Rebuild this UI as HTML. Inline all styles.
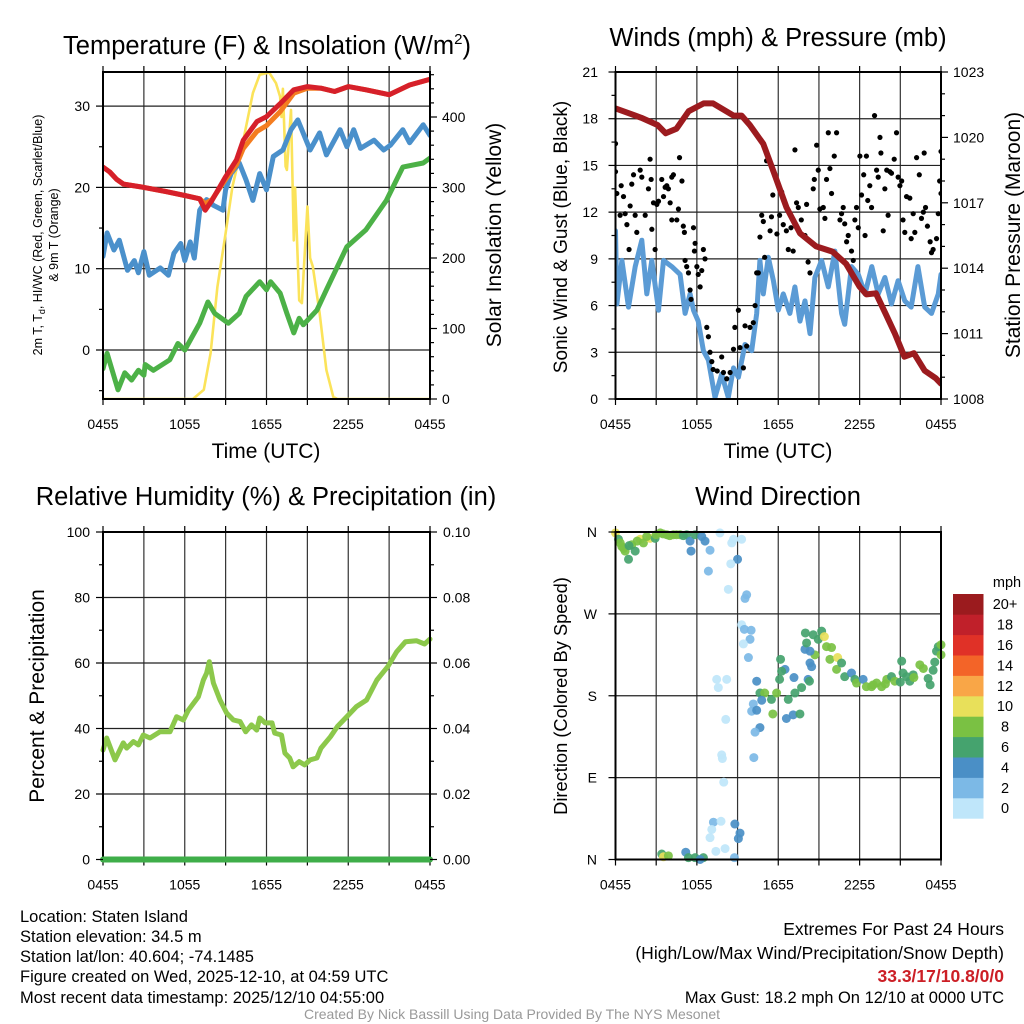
<!DOCTYPE html>
<html><head><meta charset="utf-8"><style>
body{margin:0;background:#fff}
svg{display:block;font-family:"Liberation Sans",sans-serif}
</style></head><body>
<svg id="c" width="1024" height="1024" viewBox="0 0 1024 1024">
<rect width="1024" height="1024" fill="#fff"/>
<text x="267" y="54" font-size="25.5" text-anchor="middle">Temperature (F) &amp; Insolation (W/m<tspan font-size="15" dy="-10">2</tspan><tspan dy="10">)</tspan></text>
<text x="778" y="46" font-size="25.5" text-anchor="middle">Winds (mph) &amp; Pressure (mb)</text>
<text x="266" y="505" font-size="25.5" text-anchor="middle">Relative Humidity (%) &amp; Precipitation (in)</text>
<text x="778" y="505" font-size="25.5" text-anchor="middle">Wind Direction</text>

<text transform="translate(42,235) rotate(-90)" font-size="12.5" text-anchor="middle">2m T, T<tspan font-size="9" dy="3">d</tspan><tspan dy="-3">, HI/WC (Red, Green, Scarlet/Blue)</tspan></text>
<text transform="translate(58,235) rotate(-90)" font-size="12.5" text-anchor="middle">&amp; 9m T (Orange)</text>
<text transform="translate(501,235) rotate(-90)" font-size="21" text-anchor="middle">Solar Insolation (Yellow)</text>
<text x="266" y="458" font-size="21" text-anchor="middle">Time (UTC)</text>
<text transform="translate(567,237) rotate(-90)" font-size="19" text-anchor="middle">Sonic Wind &amp; Gust (Blue, Black)</text>
<text transform="translate(1020,235) rotate(-90)" font-size="21" text-anchor="middle">Station Pressure (Maroon)</text>
<text x="778" y="458" font-size="21" text-anchor="middle">Time (UTC)</text>
<text transform="translate(44,696) rotate(-90)" font-size="21" text-anchor="middle">Percent &amp; Precipitation</text>
<text transform="translate(567,696) rotate(-90)" font-size="18.3" text-anchor="middle">Direction (Colored By Speed)</text>

<g font-size="16.5">
<text x="20" y="922">Location: Staten Island</text>
<text x="20" y="942">Station elevation: 34.5 m</text>
<text x="20" y="962">Station lat/lon: 40.604; -74.1485</text>
<text x="20" y="982">Figure created on Wed, 2025-12-10, at 04:59 UTC</text>
<text x="20" y="1003">Most recent data timestamp: 2025/12/10 04:55:00</text>
</g>
<g font-size="16.5" text-anchor="end">
<text x="1004" y="935" font-size="17.5">Extremes For Past 24 Hours</text>
<text x="1004" y="959" font-size="17.5">(High/Low/Max Wind/Precipitation/Snow Depth)</text>
<text x="1004" y="982" fill="#cc1f26" font-weight="bold" font-size="17.5">33.3/17/10.8/0/0</text>
<text x="1004" y="1003">Max Gust: 18.2 mph On 12/10 at 0000 UTC</text>
</g>
<text x="512" y="1019" font-size="14" fill="#999" text-anchor="middle">Created By Nick Bassill Using Data Provided By The NYS Mesonet</text>
</svg>
<script>
// ---- Temperature panel data (hours since 0455 UTC) ----
const redT=[0,0.5,1,1.5,3,4.6,6,7.1,7.5,8.0,9,9.8,10.3,11.3,12,13,14,15,16,17,18,19.3,21,22.5,24];
const redV=[22.5,21.9,21.0,20.4,20.0,19.5,19.0,18.6,17.2,18.4,21.3,23.4,25.8,28.1,28.7,30.3,32.0,32.4,32.2,31.8,32.4,32.0,31.4,32.6,33.3];
const orangeV=[22.5,21.9,21.0,20.4,20.0,19.5,19.0,18.6,18.0,18.5,21.0,22.8,24.8,26.9,27.6,29.3,31.6,32.2,32.2,31.8,32.4,32.0,31.4,32.6,33.3];
const blueT=[0,0.3,0.8,1.2,1.8,2.3,2.6,3,3.4,4.2,4.8,5.2,5.7,6,6.4,6.7,7.1,7.6,8.1,8.8,9,9.4,10,10.5,11,11.5,12,12.5,13.2,13.8,14.3,15.2,15.9,16.4,17.4,17.9,18.4,18.9,19.9,20.6,21.1,22,22.5,23.5,24];
const blueV=[11.5,14.4,12.3,13.5,9.8,11,9.5,12.1,9.2,10.1,9.2,11.9,13.1,11,13.3,11.3,17.2,18.5,17.8,17.2,19.7,21.7,23,20.9,18.4,21.7,19.7,23.8,24.6,27.1,28.3,24.6,26.7,24,27.1,25,27.1,24.8,25.8,24.6,25.2,27.1,25.5,27.7,26.4];
const greenT=[0,0.3,1.1,1.6,2.1,2.6,3,3.1,3.7,4.9,5.5,6,7.1,7.7,8.2,9.2,10,10.5,11.5,12,12.3,13,13.5,14,14.4,14.7,15.7,16.4,17.9,19.3,20.8,22,23.5,24];
const greenV=[-2.3,-0.4,-4.9,-2.8,-3.7,-2.5,-3.1,-1.8,-2.5,-1.2,0.8,0,3.3,5.9,4.5,3.3,4.5,6.6,8.4,7.4,8.4,7.0,4.5,2.1,3.9,3.1,4.9,7.4,12.7,14.8,18.4,22.5,23,23.6];
const solT=[0,6.6,7.4,7.9,8.4,9,9.5,10.3,11,11.5,12.2,12.7,13.0,13.1,13.2,13.4,13.5,13.8,14.0,14.1,14.4,14.6,15.0,15.2,15.4,15.9,16.4,16.9,17.2,24];
const solV=[0,0,13,65,159,235,301,367,434,460,463,448,429,400,440,330,325,410,225,300,140,136,273,200,188,122,41,3,0,0];
// ---- Winds panel ----
const windT=[0,0.1,0.47,0.96,1.45,1.94,2.31,2.68,3.17,3.54,4.15,4.76,5.13,5.5,5.75,6.1,6.48,6.85,7.34,7.83,8.32,8.7,9.06,9.55,10.04,10.41,10.65,10.9,11.27,11.64,12,12.37,12.86,13.23,13.6,13.97,14.34,14.7,15.2,15.69,16.18,16.67,16.9,17.4,17.9,18.4,18.9,19.37,19.86,20.35,20.84,21.33,21.8,22.3,22.8,23.3,23.8,24];
const windV=[10.8,6.1,8.9,5.9,8.5,10.2,6.75,8.9,5.7,8.9,8.5,8.0,5.5,6.75,5.7,5.0,3.1,2.5,0.1,1.6,0.1,2.0,1.4,3.5,3.1,5.5,8.9,6.75,9.1,7.6,5.7,6.75,5.5,7.2,5.0,6.3,4.2,7.8,8.9,7.2,9.5,5.5,4.8,8.5,8.0,6.75,8.5,6.75,7.8,6.1,7.6,6.3,5.9,8.5,5.9,5.5,6.75,8.0];
const gustT=[0,0,0.1,0.42,0.59,0.34,0.71,0.84,1.08,1.2,1.33,1.45,1.57,1.0,1.82,1.94,2.19,2.43,2.55,2.63,2.68,2.92,2.8,3.17,3.05,3.41,3.66,3.78,3.9,3.54,4.15,4.27,4.03,4.15,4.52,4.64,4.72,4.9,5.0,5.08,5.13,5.25,5.38,5.75,5.87,5.82,6.0,6.1,6.24,6.36,6.48,6.6,5.57,5.5,6.73,6.85,6.97,7.1,7.2,7.5,7.83,7.96,8.2,8.45,8.7,8.8,9.06,9.18,9.43,9.55,9.67,9.92,10.16,10.29,10.41,10.53,10.65,10.78,10.9,11.0,11.14,11.4,11.5,11.6,11.9,12.1,12.25,12.37,12.6,12.74,12.94,13.1,13.23,13.35,13.48,13.7,13.97,14.09,14.2,14.34,14.58,14.66,14.83,14.95,15.07,15.32,15.44,15.56,15.69,15.81,15.93,16.13,16.3,16.55,16.67,16.79,16.9,17.04,17.16,17.4,17.53,17.65,17.77,17.9,18.02,18.14,18.3,18.4,18.5,18.6,18.75,18.88,19.1,19.25,19.37,19.5,19.57,19.74,19.86,20.0,20.1,20.23,20.35,20.55,20.72,20.84,20.97,21.1,21.2,21.33,21.46,21.7,21.8,21.95,22.07,22.2,22.4,22.56,22.7,22.76,22.86,23.0,23.2,23.3,23.42,23.67,23.8,23.9,24.0,24.0];
const gustV=[16.4,14.6,13.2,13.7,13.0,11.8,11.9,11.2,12.4,13.8,14.4,11.8,10.7,9.6,14.7,14.25,11.8,13.5,15.4,14.1,10.9,9.6,12.6,12.7,12.5,14.1,13.6,13.7,13.5,13.0,14.25,14.4,12.6,11.5,11.5,12.2,15.5,14.0,11.1,10.7,8.9,8.5,8.1,11.0,10.0,9.5,8.5,8.0,7.2,8.25,9.6,9.0,6.4,7.0,4.6,4.0,3.0,2.4,1.9,1.8,2.7,1.7,1.3,1.7,3.2,4.6,5.7,3.3,2.0,4.7,3.4,4.6,4.9,6.0,8.1,8.1,10.4,11.8,11.4,9.1,15.3,10.8,11.7,13.1,10.6,11.8,13.3,11.2,10.8,9.6,11.0,9.5,16.0,12.6,12.3,11.5,10.5,12.5,8.8,8.1,13.5,14.1,16.3,14.7,12.2,12.3,11.6,14.1,17.1,14.8,13.2,15.6,17.1,11.5,11.9,12.3,11.25,10.1,10.5,9.5,8.9,11.5,12.3,11.0,15.6,13.1,14.4,10.5,15.6,12.75,13.7,12.3,18.2,14.7,14.25,16.8,15.8,10.8,13.5,14.7,11.8,14.6,14.5,15.4,17.1,14.25,13.7,14.0,11.5,10.7,13.0,12.9,10.3,11.9,10.7,15.5,14.4,11.6,12.0,15.8,12.3,11.1,10.1,9.4,9.6,10.3,11.9,14.0,13.2,15.9];
const presT=[0,1.9,3.1,3.7,4.5,5.4,6.5,7.2,8.7,9.3,9.9,10.9,11.7,12.6,13.6,14.8,16.0,17,18,18.5,19.2,19.9,20.6,21.3,22,22.8,23.6,24];
const presV=[1021.33,1020.9,1020.57,1020.19,1020.4,1021.2,1021.56,1021.56,1021.0,1021.0,1020.57,1019.7,1018.35,1016.8,1015.6,1015.0,1014.76,1014.2,1013.15,1012.8,1012.85,1011.93,1011.0,1009.94,1010.1,1009.3,1008.96,1008.7];
// ---- RH panel ----
const rhT=[0,0.27,0.88,1.49,1.74,2.23,2.6,2.96,3.45,4.18,4.92,5.4,5.9,6.26,7.0,7.37,7.6,7.8,8.1,8.59,9.08,9.57,10.06,10.47,10.9,11.28,11.5,11.9,12.4,12.6,13.1,13.35,13.7,13.95,14.4,14.8,15.2,15.7,16.0,16.7,17.2,18.0,18.6,19.35,20.1,20.9,21.55,22.2,23.0,23.6,24];
const rhV=[33.4,37.1,30.4,35.6,34.0,36.0,35.0,38.0,37.1,39.0,39.0,43.6,42.6,45.6,49.7,54.8,56.9,60.4,53.9,48.7,44.7,42.6,42.1,39.0,41.1,39.5,43.2,41.7,41.7,38.6,38.0,32.5,31.0,28.3,29.9,28.9,30.4,31.0,34.0,37.5,40.6,44.1,46.7,48.7,54.8,58.9,63.4,66.5,66.8,65.8,67.3];
const precipT=[0,24];
const precipV=[0,0];
// ---- Wind direction panel ----
const dirT=[0,0.22,0.47,0.71,0.96,1.2,1.45,1.82,2.06,2.55,2.92,3.3,3.78,4.27,4.76,5.25,5.5,5.57,5.87,6.36,6.6,6.97,6.85,7.7,8.57,8.7,9.3,9.0,8.5,8.32,9.67,9.55,9.3,9.5,10.0,9.92,9.43,9.8,7.46,8.2,7.58,8.13,7.83,7.88,7.98,7.22,7.78,7.1,6.97,7.4,8.08,8.8,9.18,9.06,8.77,3.41,3.54,3.9,5.18,5.38,5.87,6.48,6.24,10.41,10.65,11.0,11.5,11.88,12.1,12.17,12.5,12.25,10.78,10.16,10.04,10.41,11.6,12.6,13.1,13.6,10.65,10.29,10.2,12.74,13.23,13.72,14.2,14.3,13.16,14.34,14.46,13.97,14.09,14.0,14.58,14.7,14.34,14.95,15.2,15.4,15.56,15.93,15.81,16.38,16.3,16.67,16.9,17.4,17.65,17.77,18.26,18.5,18.88,19.25,19.62,20.0,20.35,20.6,21.1,21.2,21.46,21.7,21.95,22.44,22.7,23.05,23.2,23.42,23.54,23.67,23.8,24.0,24.0,0.35,0.6,1.0,1.6,2.3,3.0,3.5,4.0,4.5,5.0,19.0,19.9,21.0,22.0];
const dirV=[359,352,344,339,330,346,339,352,348,353,353,359,357,357,357,357,350,339,357,355,350,340,317,359,348,352,352,330,325,297,291,287,258,253,252,242,237,222,198,198,189,154,115,111,85,41,42,33,24,9,12,39,29,23,2,6,3,4,8,2,2,2,0,196,183,183,176,183,198,220,209,207,175,171,163,164,160,155,159,160,145,140,112,176,183,189,198,196,200,216,212,231,238,249,247,225,229,242,251,245,234,233,220,222,209,216,201,205,198,194,198,190,190,194,190,198,201,196,218,205,201,196,203,214,210,199,192,208,217,229,234,236,225,348,342,345,350,355,357,358,356,357,356,192,193,195,200];
const dirS=[10,6,8,8,6,8,6,10,8,10,6,8,8,8,8,6,4,4,6,4,4,2,2,0,0,0,0,4,0,0,2,2,0,2,2,2,0,2,0,0,0,0,0,0,0,2,0,0,0,0,0,4,4,4,2,6,10,8,4,6,6,6,4,4,6,8,6,8,6,6,4,6,4,2,2,4,8,4,4,6,4,2,2,6,6,6,4,6,4,4,4,4,6,6,6,8,4,6,6,10,8,8,8,10,8,6,6,4,6,8,4,8,8,8,8,8,6,8,6,6,6,6,6,8,8,6,6,6,6,6,6,8,8,8,8,6,8,8,8,8,8,8,6,8,8,6,8];
// ---- Colorbar ----
const cbLabels=["0","2","4","6","8","10","12","14","16","18","20+"];
const cbColors=["#bfe6fa","#7cb9e6","#4a8fc6","#45a36e","#7ac143","#e8e05a","#f9a647","#f36428","#e03127","#c0202a","#9b1b1e"];
const timeLabels=["0455","1055","1655","2255","0455"];
const tempTicks=[0,10,20,30];
const solarTicks=[0,100,200,300,400];
const windTicks=[0,3,6,9,12,15,18,21];
const presTicks=[1008,1011,1014,1017,1020,1023];
const rhTicks=[0,20,40,60,80,100];
const precipTicks=["0.00","0.02","0.04","0.06","0.08","0.10"];
const dirTicks=["N","E","S","W","N"];

const NS="http://www.w3.org/2000/svg";
const svg=document.getElementById('c');
function mk(tag,attrs,parent){const e=document.createElementNS(NS,tag);for(const k in attrs)e.setAttribute(k,attrs[k]);(parent||svg).appendChild(e);return e;}
function txt(x,y,s,anchor,size,parent){const t=mk('text',{x:x,y:y,'font-size':size||14,'text-anchor':anchor||'middle'},parent);t.textContent=s;return t;}

function panel(name,x0,x1,yT,yB){
  const g=mk('g',{});
  
  
  const sx=t=>x0+(x1-x0)*t/24;
  return {g,sx,x0,x1,yT,yB};
}
function grid(P,hys){
  for(let h=3;h<24;h+=3){mk('line',{x1:P.sx(h),x2:P.sx(h),y1:P.yT,y2:P.yB,stroke:'#333','stroke-width':1.2},P.g);}
  hys.forEach(y=>mk('line',{x1:P.x0,x2:P.x1,y1:y,y2:y,stroke:'#222','stroke-width':1.2},P.g));
}
function frame(P){
  mk('rect',{x:P.x0,y:P.yT,width:P.x1-P.x0,height:P.yB-P.yT,fill:'none',stroke:'#000','stroke-width':2},P.g);
  for(let h=0;h<=24;h+=3){const x=P.sx(h);
    mk('line',{x1:x,x2:x,y1:P.yB,y2:P.yB+6,stroke:'#000','stroke-width':1.2},P.g);
    mk('line',{x1:x,x2:x,y1:P.yT,y2:P.yT-6,stroke:'#000','stroke-width':1.2},P.g);}
  timeLabels.forEach((s,i)=>{const l=txt(P.sx(i*6),P.yB+30,s,'middle',14,P.g);
    
    });
}
function ytick(P,y,side,len){const x=side<0?P.x0:P.x1;mk('line',{x1:x,x2:x+side*len,y1:y,y2:y,stroke:'#000','stroke-width':1.2},P.g);}
function poly(P,ts,vs,sy,color,w,name){
  const pts=ts.map((t,i)=>P.sx(t).toFixed(1)+','+sy(vs[i]).toFixed(1)).join(' ');
  const p=mk('polyline',{points:pts,fill:'none',stroke:color,'stroke-width':w,'stroke-linejoin':'round','stroke-linecap':'round'},P.g);
  
  
  return p;
}

// Panel 1
const P1=panel('temperature-chart',103,430,72,399);
const yT=v=>350-v*8.13, yS=v=>399-v*0.705;
grid(P1,tempTicks.map(yT));
const clip1=mk('clipPath',{id:'cl1'});mk('rect',{x:103,y:72,width:327,height:327},clip1);
const g1=mk('g',{'clip-path':'url(#cl1)'},P1.g);const Q1={g:g1,sx:P1.sx};
poly(Q1,solT,solV,yS,'#fbe35a',2.6,'solar-insolation-line');
poly(Q1,greenT,greenV,yT,'#4cb147',5,'dewpoint-line');
poly(Q1,blueT,blueV,yT,'#4a90cb',5,'wind-chill-line');
poly(Q1,redT,orangeV,yT,'#f47d20',5,'temp-9m-line');
poly(Q1,redT,redV,yT,'#d6202a',5,'temp-2m-line');
frame(P1);
for(let v=-5;v<=34;v+=5){ytick(P1,yT(v),-1,v%10===0?7:4);}
tempTicks.forEach(v=>{const l=txt(90,yT(v)+5,String(v),'end',14,P1.g);});
for(let v=0;v<=460;v+=20){ytick(P1,yS(v),1,v%100===0?7:4);}
solarTicks.forEach(v=>{const l=txt(442,yS(v)+5,String(v),'start',14,P1.g);});

// Panel 2
const P2=panel('winds-chart',615.5,941,72,399);
const yW=v=>399-v*15.571, yP=p=>399-(p-1008)*21.8;
grid(P2,windTicks.slice(1,-1).map(yW));
const clip2=mk('clipPath',{id:'cl2'});mk('rect',{x:615,y:72,width:327,height:330},clip2);
const g2=mk('g',{'clip-path':'url(#cl2)'},P2.g);const Q2={g:g2,sx:P2.sx};
poly(Q2,windT,windV,yW,'#5b9bd5',5,'sonic-wind-line');
gustT.forEach((t,i)=>{const c=mk('circle',{cx:P2.sx(t),cy:yW(gustV[i]),r:2.6,fill:'#000'},g2);
  
  });
poly(Q2,presT,presV,yP,'#9c1b1f',6,'pressure-line');
frame(P2);
for(let v=0;v<=21;v+=1.5){ytick(P2,yW(v),-1,v%3===0?7:4);}
windTicks.forEach(v=>{const l=txt(598,yW(v)+5,String(v),'end',14,P2.g);});
for(let p=1008;p<=1023;p+=1){ytick(P2,yP(p),1,(p-1008)%3===0?7:4);}
presTicks.forEach(v=>{const l=txt(953,yP(v)+5,String(v),'start',14,P2.g);});

// Panel 3
const P3=panel('humidity-chart',103,430,532,859.5);
const yR=v=>859.5-v*3.275;
grid(P3,rhTicks.slice(1,-1).map(yR));
poly(P3,rhT,rhV,yR,'#8cc84b',5,'relative-humidity-line');
frame(P3);
poly(P3,precipT,precipV.map(v=>v*1000),yR,'#3fae49',6,'precipitation-line');
for(let v=0;v<=100;v+=10){ytick(P3,yR(v),-1,v%20===0?7:4);ytick(P3,yR(v),1,v%20===0?7:4);}
rhTicks.forEach(v=>{const l=txt(90,yR(v)+5,String(v),'end',14,P3.g);});
precipTicks.forEach((s,i)=>{const l=txt(443,yR(i*20)+5,s,'start',14,P3.g);});

// Panel 4
const P4=panel('wind-direction-chart',615.5,941,532,859.5);
const yD=d=>859.5-d*0.9097;
grid(P4,[90,180,270].map(yD));
dirT.forEach((t,i)=>{const b=Math.min(10,Math.floor(dirS[i]/2));
  const c=mk('circle',{cx:P4.sx(t),cy:yD(dirV[i]),r:4.5,fill:cbColors[b],'fill-opacity':0.92},P4.g);
  
  });
frame(P4);
for(let d=0;d<=360;d+=90){ytick(P4,yD(d),-1,7);}
dirTicks.forEach((s,i)=>{const l=txt(597,yD(i*90)+5,s,'end',14,P4.g);});

// Colorbar
const cb=mk('g',{});


const cbTop=594,cbH=20.4;
cbColors.forEach((col,i)=>{const y=cbTop+(10-i)*cbH;
  const r=mk('rect',{x:953,y:y,width:30.5,height:cbH+0.3,fill:col},cb);
  
  
  const l=txt(1005,y+cbH/2+5,cbLabels[i],'middle',14.5,cb);
  
  });
const u=txt(1007,587,'mph','middle',14.5,cb);


</script>
</body></html>
